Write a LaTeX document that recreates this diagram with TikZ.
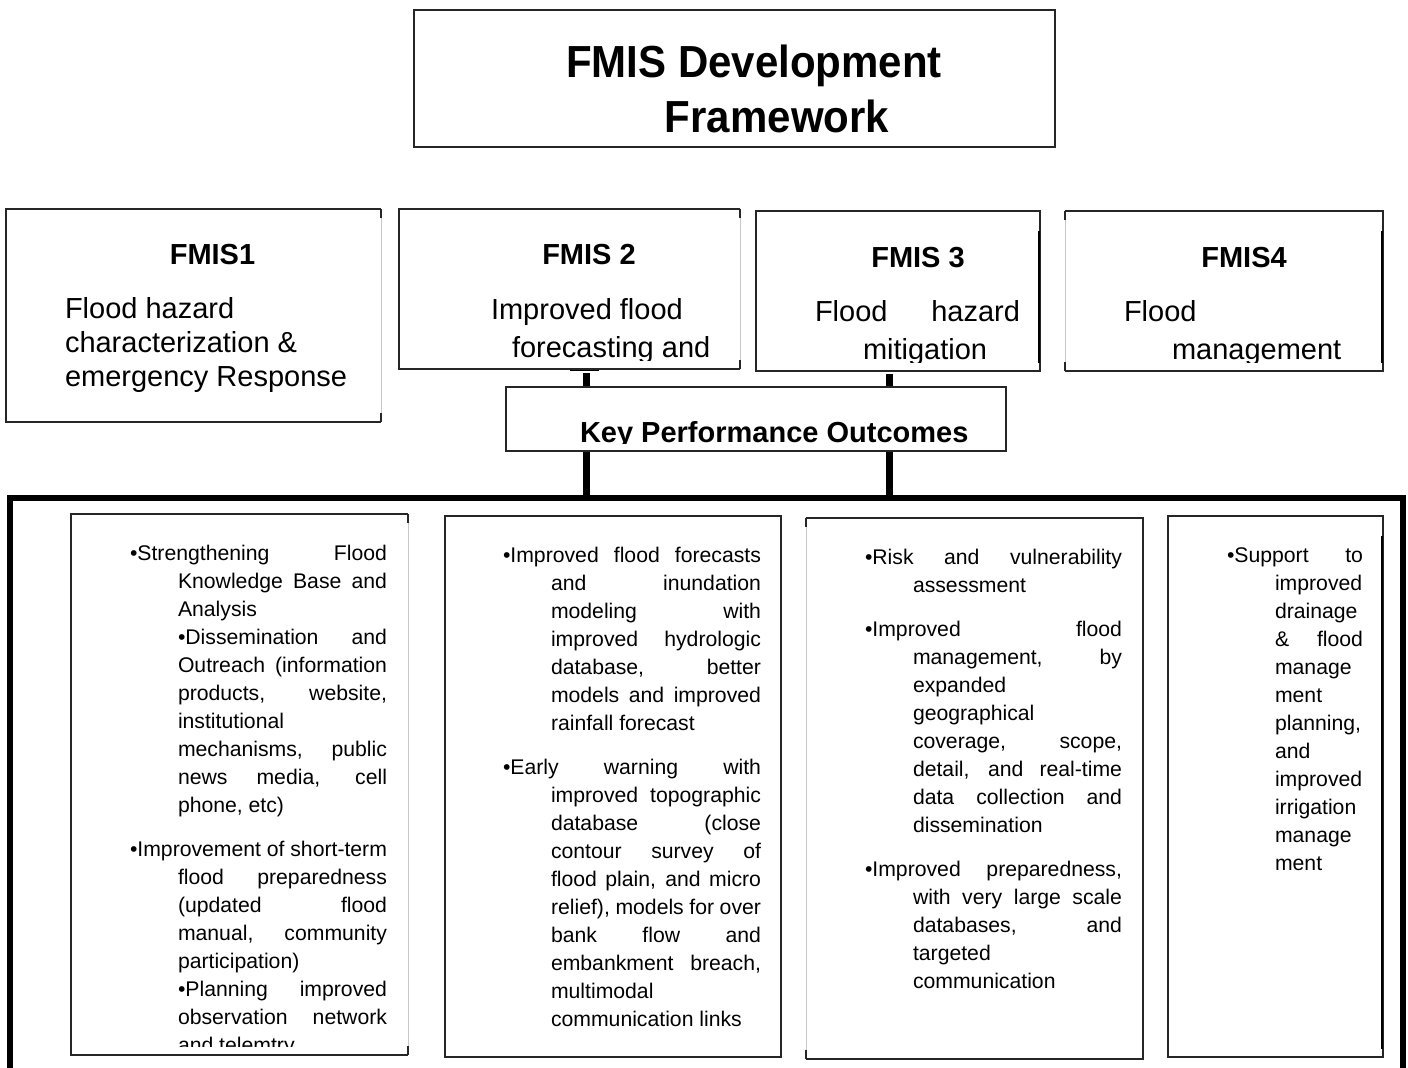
\documentclass[tikz,border=0pt]{standalone}
\usepackage{fontspec}
\setmainfont{Liberation Sans}
\newlength\bw
\newlength\iw
\newcommand\myB[1]{\makebox[\bw][s]{#1}}
\newcommand\myJ[1]{\hspace*{48pt}\makebox[\iw][s]{#1}}
\newcommand\myN[1]{\hspace*{48pt}#1}
\newcommand\setw[2]{\setlength\bw{#1}\setlength\iw{#2}}
\newcommand\ttlfont{\fontsize{42}{54}\selectfont\bfseries}
\newcommand\hdrfont{\fontsize{29}{34}\selectfont\bfseries}
\newcommand\bodfont{\fontsize{29}{34}\selectfont}
\newcommand\smlfont{\fontsize{21.2}{28}\selectfont}
\tikzset{
  boxn/.style={rectangle, inner sep=0pt, outer sep=0pt, draw=none},
  edge/.style={draw=black!85, line width=1.4pt},
  faint/.style={draw=black!22, line width=0.9pt},
  thickedge/.style={draw=black, line width=2.4pt},
  conn/.style={line width=7pt, draw=black},
  capline/.style={line width=3pt, draw=black},
  frameline/.style={line width=6pt, draw=black, line join=miter},
  txt/.style={inner sep=0pt, outer sep=0pt},
}
\begin{document}
\begin{tikzpicture}[x=1pt,y=-1pt]
\useasboundingbox (0,0) rectangle (1408,1068);
\fill[white] (0,0) rectangle (1408,1068);

% ---- boxes (anchors only) ----
\node[boxn, minimum width=641pt, minimum height=137pt] (title) at (734.5,78.5) {};
\node[boxn, minimum width=375pt, minimum height=213pt] (f1) at (193.5,315.5) {};
\node[boxn, minimum width=341pt, minimum height=160pt] (f2) at (569.5,289) {};
\node[boxn, minimum width=284pt, minimum height=160pt] (f3) at (898,291) {};
\node[boxn, minimum width=318pt, minimum height=160pt] (f4) at (1224,291) {};
\node[boxn, minimum width=337pt, minimum height=541pt] (bA) at (239.5,784.5) {};
\node[boxn, minimum width=336pt, minimum height=541pt] (bB) at (613,786.5) {};
\node[boxn, minimum width=337pt, minimum height=541pt] (bC) at (974.5,788.5) {};
\node[boxn, minimum width=215pt, minimum height=541pt] (bD) at (1275.5,786.5) {};

% ---- frame ----
\coordinate (frameBL) at (10,1068);
\coordinate (frameTL) at (10,498);
\coordinate (frameTR) at (1403,498);
\coordinate (frameBR) at (1403,1068);
\draw[frameline] (frameBL) -- (frameTL) -- (frameTR) -- (frameBR);

% ---- connectors ----
\coordinate (c1) at (586,0);
\coordinate (c2) at (889.5,0);
\path (f2.south -| c1) coordinate (c1top);
\path (f3.south -| c2) coordinate (c2top);
\draw[conn] ([yshift=-4pt]c1top) -- (c1 |- frameTL);
\draw[conn] ([yshift=-3pt]c2top) -- (c2 |- frameTL);
\draw[capline] ([xshift=-16pt]c1top) -- ([xshift=13pt]c1top);

% ---- KPO box (drawn over connectors) ----
\node[boxn, fill=white, minimum width=500pt, minimum height=64pt] (kpo) at (756,419) {};
\draw[edge] (kpo.north west) rectangle (kpo.south east);

% ---- box borders ----
\draw[edge] (title.north west) rectangle (title.south east);

\draw[edge] (f1.north east) -- (f1.north west) -- (f1.south west) -- (f1.south east);
\draw[faint] (f1.north east) -- (f1.south east);
\draw[edge] (f1.north east) -- ++(0,9);
\draw[edge] (f1.south east) -- ++(0,-9);

\draw[edge] (f2.north east) -- (f2.north west) -- (f2.south west) -- (f2.south east);
\draw[faint] (f2.north east) -- (f2.south east);
\draw[edge] (f2.north east) -- ++(0,9);
\draw[edge] (f2.south east) -- ++(0,-9);

\draw[edge] (f3.north west) rectangle (f3.south east);
\draw[thickedge] ([xshift=-1pt,yshift=-20pt]f3.north east) -- ([xshift=-1pt,yshift=8pt]f3.south east);

\draw[edge] (f4.north west) -- (f4.north east) -- (f4.south east) -- (f4.south west);
\draw[faint] (f4.north west) -- (f4.south west);
\draw[edge] (f4.north west) -- ++(0,9);
\draw[edge] (f4.south west) -- ++(0,-9);
\draw[thickedge] ([xshift=-1pt,yshift=-20pt]f4.north east) -- ([xshift=-1pt,yshift=8pt]f4.south east);

\draw[edge] (bA.north east) -- (bA.north west) -- (bA.south west) -- (bA.south east);
\draw[faint] (bA.north east) -- (bA.south east);
\draw[edge] (bA.north east) -- ++(0,9);
\draw[edge] (bA.south east) -- ++(0,-9);

\draw[edge] (bB.north west) rectangle (bB.south east);

\draw[edge] (bC.north west) -- (bC.north east) -- (bC.south east) -- (bC.south west);
\draw[faint] (bC.north west) -- (bC.south west);
\draw[edge] (bC.north west) -- ++(0,9);
\draw[edge] (bC.south west) -- ++(0,-9);

\draw[edge] (bD.north west) rectangle (bD.south east);
\draw[thickedge] ([xshift=-1pt,yshift=-20pt]bD.north east) -- ([xshift=-1pt,yshift=8pt]bD.south east);

% ---- title ----
\node[txt, anchor=base] (t1) at (754,77) {\ttlfont\scalebox{1}[1.07]{FMIS Development}};
\node[txt, anchor=base] (t2) at (777,132) {\ttlfont\scalebox{1}[1.07]{Framework}};

% ---- headers ----
\node[txt, anchor=base] (h1) at (212.5,264) {\hdrfont FMIS1};
\node[txt, anchor=base] (h2) at (589,264) {\hdrfont FMIS 2};
\node[txt, anchor=base] (h3) at (918,267) {\hdrfont FMIS 3};
\node[txt, anchor=base] (h4) at (1244,267) {\hdrfont FMIS4};

\node[txt, anchor=base west] (g1a) at (65,318) {\bodfont Flood hazard};
\node[txt, anchor=base west] (g1b) at (65,352) {\bodfont characterization \&};
\node[txt, anchor=base west] (g1c) at (65,386) {\bodfont emergency Response};

\begin{scope}
\clip (f2.north west) rectangle ([yshift=9pt]f2.south east);
\node[txt, anchor=base west] (g2a) at (491,319) {\bodfont Improved flood};
\node[txt, anchor=base west] (g2b) at (512,357) {\bodfont forecasting and};
\end{scope}

\begin{scope}
\clip (f3.north west) rectangle ([yshift=9pt]f3.south east);
\node[txt, anchor=base west] (g3a) at (815,321) {\bodfont\makebox[205pt][s]{Flood hazard}};
\node[txt, anchor=base west] (g3b) at (863,359) {\bodfont mitigation};
\end{scope}

\begin{scope}
\clip (f4.north west) rectangle ([yshift=9pt]f4.south east);
\node[txt, anchor=base west] (g4a) at (1124,321) {\bodfont Flood};
\node[txt, anchor=base west] (g4b) at (1172,359) {\bodfont management};
\end{scope}

\begin{scope}
\clip (kpo.north west) rectangle ([yshift=8pt]kpo.south east);
\node[txt, anchor=base west] (kt) at (580,442) {\hdrfont Key Performance Outcomes};
\end{scope}

% ---- bottom box texts ----
\begin{scope}
\clip (bA.north west) rectangle ([yshift=9pt]bA.south east);
\node[txt, anchor=base west] (xA) at (130,560) {\setw{257pt}{209pt}\parbox[t]{\bw}{\smlfont
\myB{•Strengthening Flood}\\
\myJ{Knowledge Base and}\\
\myN{Analysis}\\
\myJ{•Dissemination and}\\
\myJ{Outreach (information}\\
\myJ{products, website,}\\
\myN{institutional}\\
\myJ{mechanisms, public}\\
\myJ{news media, cell}\\
\myN{phone, etc)}\\[16pt]
\myB{•Improvement of short-term}\\
\myJ{flood preparedness}\\
\myJ{(updated flood}\\
\myJ{manual, community}\\
\myN{participation)}\\
\myJ{•Planning improved}\\
\myJ{observation network}\\
\myN{and telemtry}}};
\end{scope}

\node[txt, anchor=base west] (xB) at (503,562) {\setw{258pt}{210pt}\parbox[t]{\bw}{\smlfont
\myB{•Improved flood forecasts}\\
\myJ{and inundation}\\
\myJ{modeling with}\\
\myJ{improved hydrologic}\\
\myJ{database, better}\\
\myJ{models and improved}\\
\myN{rainfall forecast}\\[16pt]
\myB{•Early warning with}\\
\myJ{improved topographic}\\
\myJ{database (close}\\
\myJ{contour survey of}\\
\myJ{flood plain, and micro}\\
\myJ{relief), models for over}\\
\myJ{bank flow and}\\
\myJ{embankment breach,}\\
\myN{multimodal}\\
\myN{communication links}}};

\node[txt, anchor=base west] (xC) at (865,564) {\setw{257pt}{209pt}\parbox[t]{\bw}{\smlfont
\myB{•Risk and vulnerability}\\
\myN{assessment}\\[16pt]
\myB{•Improved flood}\\
\myJ{management, by}\\
\myN{expanded}\\
\myN{geographical}\\
\myJ{coverage, scope,}\\
\myJ{detail, and real-time}\\
\myJ{data collection and}\\
\myN{dissemination}\\[16pt]
\myB{•Improved preparedness,}\\
\myJ{with very large scale}\\
\myJ{databases, and}\\
\myN{targeted}\\
\myN{communication}}};

\node[txt, anchor=base west] (xD) at (1227,562) {\setw{136pt}{88pt}\parbox[t]{\bw}{\smlfont
\myB{•Support to}\\
\myN{improved}\\
\myN{drainage}\\
\myJ{\& flood}\\
\myN{manage}\\
\myN{ment}\\
\myN{planning,}\\
\myN{and}\\
\myN{improved}\\
\myN{irrigation}\\
\myN{manage}\\
\myN{ment}}};

\end{tikzpicture}
\end{document}
